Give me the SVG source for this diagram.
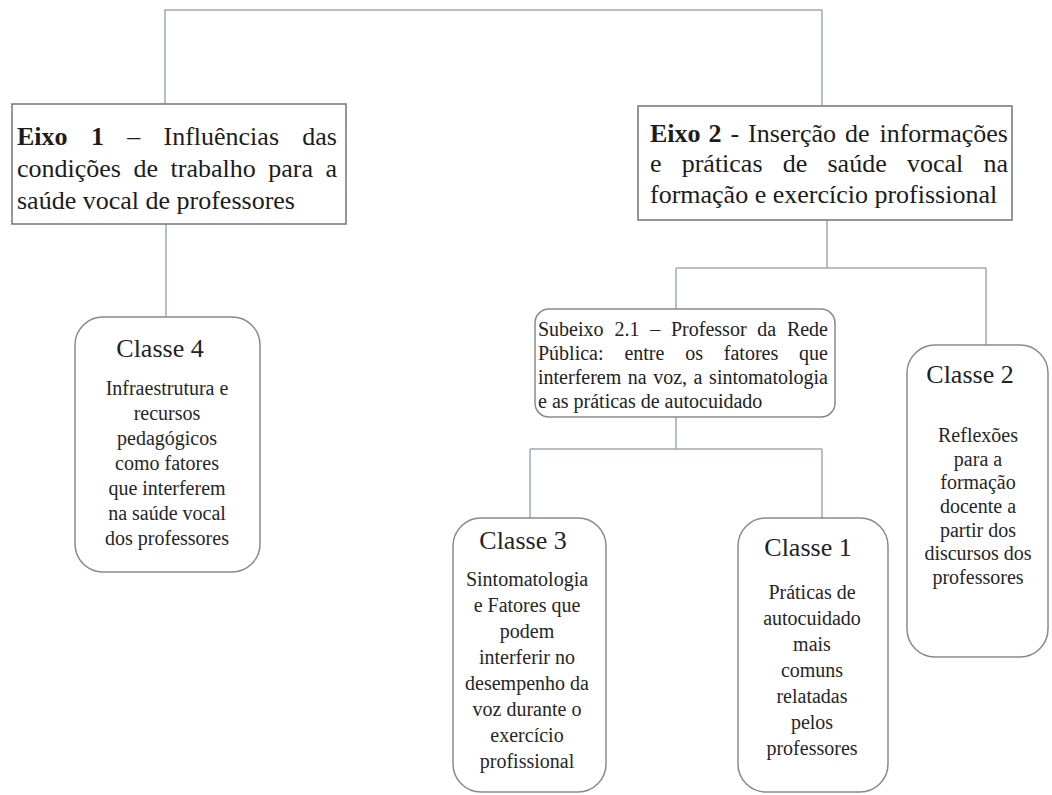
<svg xmlns="http://www.w3.org/2000/svg" width="1052" height="795" viewBox="0 0 1052 795">
<style>
.bg{fill:#ffffff}
.conn{fill:none;stroke:#9ea9b4;stroke-width:1.5}
.sq{fill:#ffffff;stroke:#7c7c7c;stroke-width:1.6}
.rd{fill:#ffffff;stroke:#8a8a8a;stroke-width:1.5}
.ax{font-family:"Liberation Serif","Times New Roman",serif;font-size:26px;fill:#1c1c1c}
.b{font-weight:bold}
.sub{font-family:"Liberation Serif","Times New Roman",serif;font-size:20px;fill:#222222}
.tt{font-family:"Liberation Serif","Times New Roman",serif;font-size:26px;fill:#222222;text-anchor:middle}
.bd{font-family:"Liberation Serif","Times New Roman",serif;font-size:20px;fill:#262626;text-anchor:middle}
.e{text-anchor:end}
</style>
<rect class="bg" x="0" y="0" width="1052" height="795"/>
<g id="connectors">
<path class="conn" d="M165,104 V10 H822 V106"/>
<path class="conn" d="M166,224 V317"/>
<path class="conn" d="M827,220 V268"/>
<path class="conn" d="M676,268 H986"/>
<path class="conn" d="M676,268 V309"/>
<path class="conn" d="M986,268 V345"/>
<path class="conn" d="M676,417 V449"/>
<path class="conn" d="M530,449 H822"/>
<path class="conn" d="M530,449 V518"/>
<path class="conn" d="M822,449 V518"/>
</g>
<g id="eixo1">
<rect class="sq" x="12" y="104" width="334" height="120"/>
<text class="ax"><tspan class="b" x="17" y="145">Eixo</tspan><tspan class="b" x="90.9" y="145">1</tspan><tspan x="127.2" y="145">–</tspan><tspan x="163.5" y="145">Influências</tspan><tspan class="e" x="337" y="145">das</tspan></text>
<text class="ax"><tspan x="17" y="177">condições</tspan><tspan x="133.5" y="177">de</tspan><tspan x="170.5" y="177">trabalho</tspan><tspan x="268.2" y="177">para</tspan><tspan class="e" x="337" y="177">a</tspan></text>
<text class="ax" x="17" y="209">saúde vocal de professores</text>
</g>
<g id="eixo2">
<rect class="sq" x="638" y="106" width="374" height="114"/>
<text class="ax"><tspan class="b" x="650" y="142">Eixo</tspan><tspan class="b" x="708.5" y="142">2</tspan><tspan x="730.4" y="142">-</tspan><tspan x="748" y="142">Inserção</tspan><tspan x="845" y="142">de</tspan><tspan class="e" x="1008" y="142">informações</tspan></text>
<text class="ax"><tspan x="650" y="172">e</tspan><tspan x="681.7" y="172">práticas</tspan><tspan x="782.8" y="172">de</tspan><tspan x="827.5" y="172">saúde</tspan><tspan x="906.9" y="172">vocal</tspan><tspan class="e" x="1008" y="172">na</tspan></text>
<text class="ax" x="650" y="203">formação e exercício profissional</text>
</g>
<g id="subeixo21">
<rect class="rd" x="535" y="309" width="300" height="108" rx="14"/>
<text class="sub"><tspan x="538" y="336">Subeixo</tspan><tspan x="614.4" y="336">2.1</tspan><tspan x="650.2" y="336">–</tspan><tspan x="671" y="336">Professor</tspan><tspan x="757.3" y="336">da</tspan><tspan class="e" x="828" y="336">Rede</tspan></text>
<text class="sub"><tspan x="538" y="360">Pública:</tspan><tspan x="624.4" y="360">entre</tspan><tspan x="685.2" y="360">os</tspan><tspan x="723.8" y="360">fatores</tspan><tspan class="e" x="828" y="360">que</tspan></text>
<text class="sub"><tspan x="538" y="384">interferem</tspan><tspan x="627.8" y="384">na</tspan><tspan x="653.2" y="384">voz,</tspan><tspan x="693.6" y="384">a</tspan><tspan class="e" x="828" y="384">sintomatologia</tspan></text>
<text class="sub" x="538" y="408">e as práticas de autocuidado</text>
</g>
<g id="classe4">
<rect class="rd" x="75" y="317" width="185" height="255" rx="28"/>
<text class="tt" x="160" y="357">Classe 4</text>
<text class="bd"><tspan x="167" y="395">Infraestrutura e</tspan><tspan x="167" y="420">recursos</tspan><tspan x="167" y="445">pedagógicos</tspan><tspan x="167" y="470">como fatores</tspan><tspan x="167" y="495">que interferem</tspan><tspan x="167" y="520">na saúde vocal</tspan><tspan x="167" y="545">dos professores</tspan></text>
</g>
<g id="classe2">
<rect class="rd" x="907" y="345" width="141" height="312" rx="28"/>
<text class="tt" x="970" y="383">Classe 2</text>
<text class="bd"><tspan x="978" y="442">Reflexões</tspan><tspan x="978" y="466">para a</tspan><tspan x="978" y="489">formação</tspan><tspan x="978" y="513">docente a</tspan><tspan x="978" y="537">partir dos</tspan><tspan x="978" y="560">discursos dos</tspan><tspan x="978" y="584">professores</tspan></text>
</g>
<g id="classe3">
<rect class="rd" x="453" y="518" width="153" height="274" rx="28"/>
<text class="tt" x="523" y="549">Classe 3</text>
<text class="bd"><tspan x="527" y="586">Sintomatologia</tspan><tspan x="527" y="612">e Fatores que</tspan><tspan x="527" y="638">podem</tspan><tspan x="527" y="664">interferir no</tspan><tspan x="527" y="690">desempenho da</tspan><tspan x="527" y="716">voz durante o</tspan><tspan x="527" y="742">exercício</tspan><tspan x="527" y="768">profissional</tspan></text>
</g>
<g id="classe1">
<rect class="rd" x="738" y="518" width="150" height="274" rx="28"/>
<text class="tt" x="808" y="556">Classe 1</text>
<text class="bd"><tspan x="812" y="599">Práticas de</tspan><tspan x="812" y="625">autocuidado</tspan><tspan x="812" y="651">mais</tspan><tspan x="812" y="677">comuns</tspan><tspan x="812" y="703">relatadas</tspan><tspan x="812" y="729">pelos</tspan><tspan x="812" y="755">professores</tspan></text>
</g>
</svg>
